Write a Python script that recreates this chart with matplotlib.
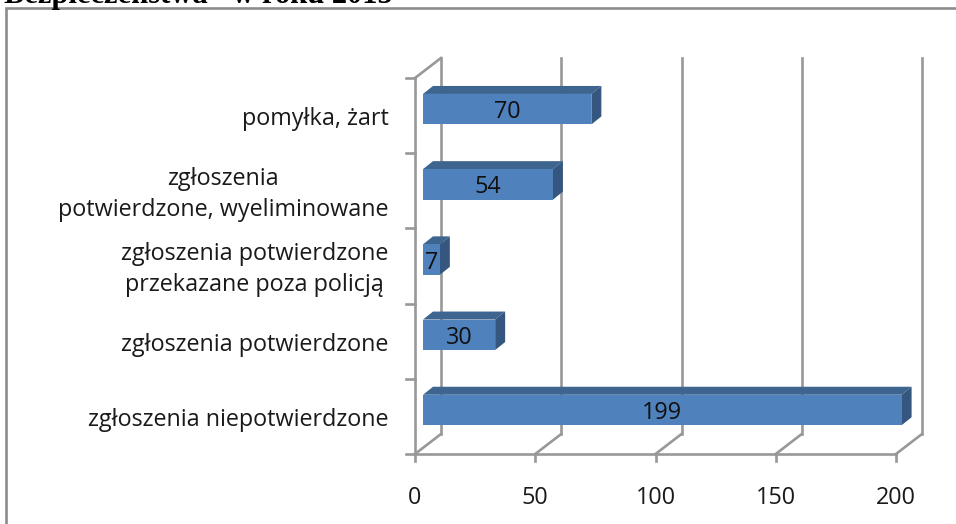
import matplotlib
matplotlib.use("Agg")
import matplotlib.pyplot as plt
from matplotlib.patches import Polygon, Rectangle

categories = ["zgłoszenia niepotwierdzone", "zgłoszenia potwierdzone",
              "zgłoszenia potwierdzone\nprzekazane poza policją",
              "zgłoszenia\npotwierdzone, wyeliminowane", "pomyłka, żart"]
values = [199, 30, 7, 54, 70]
xticks = [0, 50, 100, 150, 200]
title_fragment = "Bezpieczeństwa\" w roku 2015"

W, H = 956, 524
X0, X1, YB, YT = 415, 896, 454, 78
GRID = "#989898"
FRONT, TOP, SIDE = "#4F81BD", "#3E6490", "#35567F"
TXT = "#1a1a1a"
FS = 16.8

plt.rcParams["font.family"] = ["Open Sans", "DejaVu Sans"]
fig = plt.figure(figsize=(W/100, H/100), dpi=100, facecolor="white")
ax = fig.add_axes([X0/W, 1-YB/H, (X1-X0)/W, (YB-YT)/H])
ax.set_xlim(0, 200)
ax.set_ylim(-0.5, 4.5)
ax.axis("off")
px = 200/(X1-X0)
py = 5/(YB-YT)

def L(xs, ys):
    ax.plot(xs, ys, color=GRID, lw=1.9, clip_on=False, solid_capstyle="projecting", zorder=1)

wx, wy = 26*px, 20*py
for t in xticks:
    L([t, t+wx], [-0.5, -0.5+wy])
    L([t+wx, t+wx], [-0.5+wy, 4.5+wy])
    L([t, t], [-0.5, -0.5-7*py])
L([0, wx], [4.5, 4.5+wy])
L([0, 200], [-0.5, -0.5])
L([0, 0], [-0.5, 4.5])
for i in range(6):
    L([0, -9*px], [i-0.5, i-0.5])

bx0, by0 = 8*px, 6.4*py
dx, dy = 10*px, 8*py
bh = 30.5*py
for i, v in enumerate(values):
    x0, x1, y0, y1 = bx0, bx0+v, i+by0-bh/2, i+by0+bh/2
    ax.add_patch(Polygon([(x0, y1), (x0+dx, y1+dy), (x1+dx, y1+dy), (x1, y1)],
                         fc=TOP, ec="none", clip_on=False, zorder=3))
    ax.add_patch(Polygon([(x1, y0), (x1+dx, y0+dy), (x1+dx, y1+dy), (x1, y1)],
                         fc=SIDE, ec="none", clip_on=False, zorder=3))
    ax.barh(i+by0, v, height=bh, left=bx0, color=FRONT, zorder=4, clip_on=False)
    ax.text(bx0+v/2, i+by0-3*py, str(v), ha="center", va="center", fontsize=FS, color="#101010", zorder=5)
    ax.text(-26.5*px, i-3.5*py, categories[i], ha="right", va="center", multialignment="center",
            fontsize=FS, color=TXT, linespacing=1.42)
for t in xticks:
    ax.text(t, -0.5-44*py, str(t), ha="center", va="center", fontsize=FS, color=TXT)

fig.add_artist(Rectangle((6/W, -0.02), 1.0, 1-8/H+0.02, transform=fig.transFigure,
                         fill=False, ec="#8c8c8c", lw=1.9))
fig.text(4/W, 1-3/H, title_fragment, family="Liberation Serif", fontweight="bold",
         fontsize=22, ha="left", va="baseline", color="black")
fig.savefig("out.png", dpi=100)
